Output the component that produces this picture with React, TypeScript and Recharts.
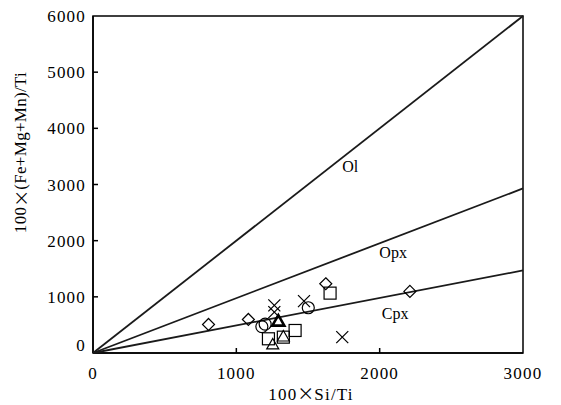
import React from 'react';
import { ScatterChart, Scatter, XAxis, YAxis, ReferenceArea, ReferenceDot } from 'recharts';

// reference lines through origin (100*Si/Ti vs 100*(Fe+Mg+Mn)/Ti)
const olLine = [{ x: 0, y: 0 }, { x: 3000, y: 6000 }];
const opxLine = [{ x: 0, y: 0 }, { x: 3000, y: 2930 }];
const cpxLine = [{ x: 0, y: 0 }, { x: 3000, y: 1470 }];

const diamonds = [
  { x: 806, y: 508 },
  { x: 1084, y: 597 },
  { x: 1624, y: 1233 },
  { x: 2211, y: 1096 },
];
const squares = [
  { x: 1654, y: 1066 },
  { x: 1410, y: 401 },
  { x: 1224, y: 253 },
  { x: 1328, y: 282 },
];
const triangles = [
  { x: 1328, y: 294 },
  { x: 1254, y: 152 },
];
const boldTriangles = [{ x: 1293, y: 567 }];
const circles = [
  { x: 1178, y: 470 },
  { x: 1201, y: 515 },
  { x: 1502, y: 806 },
];
const crosses = [
  { x: 1265, y: 847 },
  { x: 1265, y: 727 },
  { x: 1472, y: 923 },
  { x: 1739, y: 282 },
];

const xTicks = [0, 1000, 2000, 3000];
const yTicks = [0, 1000, 2000, 3000, 4000, 5000, 6000];
const lineLabels = [
  { name: 'Ol', x: 1795, y: 3325 },
  { name: 'Opx', x: 2094, y: 1792 },
  { name: 'Cpx', x: 2108, y: 704 },
];

const FONT = '"Liberation Serif", "DejaVu Serif", serif';
const CJK = '"Noto Sans CJK SC", sans-serif';
const txt = { fontFamily: FONT, letterSpacing: 1.2 };
const S = 6;

const Diamond = (p: any) => (
  <polygon points={`${p.cx},${p.cy - S} ${p.cx + S},${p.cy} ${p.cx},${p.cy + S} ${p.cx - S},${p.cy}`} fill="none" stroke="#000" strokeWidth={1.2} />
);
const Square = (p: any) => (
  <rect x={p.cx - S} y={p.cy - S} width={2 * S} height={2 * S} fill="none" stroke="#000" strokeWidth={1.2} />
);
const Triangle = (p: any) => (
  <polygon points={`${p.cx},${p.cy - S} ${p.cx + S},${p.cy + S * 0.75} ${p.cx - S},${p.cy + S * 0.75}`} fill="none" stroke="#000" strokeWidth={1.2} />
);
const BoldTriangle = (p: any) => (
  <polygon points={`${p.cx},${p.cy - S} ${p.cx + S},${p.cy + S * 0.75} ${p.cx - S},${p.cy + S * 0.75}`} fill="none" stroke="#000" strokeWidth={2.6} />
);
const Circle = (p: any) => <circle cx={p.cx} cy={p.cy} r={S} fill="none" stroke="#000" strokeWidth={1.2} />;
const Cross = (p: any) => (
  <g stroke="#000" strokeWidth={1.2}>
    <line x1={p.cx - S} y1={p.cy - S} x2={p.cx + S} y2={p.cy + S} />
    <line x1={p.cx - S} y1={p.cy + S} x2={p.cx + S} y2={p.cy - S} />
  </g>
);
const NoDot = () => null;

const XTick = (p: any) => (
  <g>
    {p.payload.value !== 0 && p.payload.value !== 3000 && (
      <line x1={p.x} y1={p.y} x2={p.x} y2={p.y - 5} stroke="#000" strokeWidth={1.5} />
    )}
    <text x={p.x} y={p.y + 26} textAnchor="middle" fontSize={17} fill="#000" style={txt}>
      {p.payload.value}
    </text>
  </g>
);
const YTick = (p: any) => (
  <g>
    {p.payload.value !== 0 && p.payload.value !== 6000 && (
      <line x1={p.x} y1={p.y} x2={p.x + 5} y2={p.y} stroke="#000" strokeWidth={1.5} />
    )}
    <text x={p.x - 7} y={p.payload.value === 0 ? p.y - 2 : p.y + 6} textAnchor="end" fontSize={17} fill="#000" style={txt}>
      {p.payload.value}
    </text>
  </g>
);

const YTitle = (p: any) => {
  const vb = p.viewBox;
  const cx = vb.x - 23;
  const cy = vb.y + vb.height / 2 - 32;
  return (
    <text x={cx} y={cy} transform={`rotate(-90 ${cx} ${cy})`} textAnchor="middle" dominantBaseline="central" fontSize={17} fill="#000" style={{ fontFamily: FONT, letterSpacing: 0.3 }}>
      100<tspan style={{ fontFamily: CJK, letterSpacing: 0 }}>×</tspan>(Fe+Mg+Mn)/Ti
    </text>
  );
};

const XTitle = (p: any) => {
  const vb = p.viewBox;
  return (
    <text x={vb.x + vb.width / 2 + 3} y={vb.y + 47} textAnchor="middle" fontSize={17} fill="#000" style={txt}>
      100<tspan style={{ fontFamily: CJK, letterSpacing: 0 }}>×</tspan>Si/Ti
    </text>
  );
};

export default function App() {
  return (
    <div style={{ position: 'absolute', left: 0, top: 0, width: 561, height: 405, background: '#fff' }}>
      <ScatterChart width={561} height={405} margin={{ top: 16, right: 38, bottom: 0, left: 43 }}>
        <XAxis
          type="number"
          dataKey="x"
          domain={[0, 3000]}
          ticks={xTicks}
          tickSize={0}
          tickMargin={0}
          tick={<XTick />}
          tickLine={false}
          axisLine={{ stroke: '#000', strokeWidth: 1.5 }}
          height={52}
          label={<XTitle />}
        />
        <YAxis
          type="number"
          dataKey="y"
          domain={[0, 6000]}
          ticks={yTicks}
          tickSize={0}
          tickMargin={0}
          tick={<YTick />}
          tickLine={false}
          axisLine={{ stroke: '#000', strokeWidth: 1.5 }}
          width={50}
          label={<YTitle />}
        />
        <ReferenceArea x1={0} x2={3000} y1={0} y2={6000} fill="none" stroke="#000" strokeWidth={1.5} />
        <Scatter data={olLine} line={{ stroke: '#1a1a1a', strokeWidth: 1.8 }} shape={NoDot} isAnimationActive={false} />
        <Scatter data={opxLine} line={{ stroke: '#1a1a1a', strokeWidth: 1.8 }} shape={NoDot} isAnimationActive={false} />
        <Scatter data={cpxLine} line={{ stroke: '#1a1a1a', strokeWidth: 1.8 }} shape={NoDot} isAnimationActive={false} />
        <Scatter data={diamonds} shape={Diamond} isAnimationActive={false} />
        <Scatter data={squares} shape={Square} isAnimationActive={false} />
        <Scatter data={triangles} shape={Triangle} isAnimationActive={false} />
        <Scatter data={boldTriangles} shape={BoldTriangle} isAnimationActive={false} />
        <Scatter data={circles} shape={Circle} isAnimationActive={false} />
        <Scatter data={crosses} shape={Cross} isAnimationActive={false} />
        {lineLabels.map((l) => (
          <ReferenceDot
            key={l.name}
            x={l.x}
            y={l.y}
            r={0}
            fill="none"
            stroke="none"
            label={{ value: l.name, position: 'center', fontFamily: FONT, fontSize: 16, fill: '#000' }}
          />
        ))}
      </ScatterChart>
    </div>
  );
}
